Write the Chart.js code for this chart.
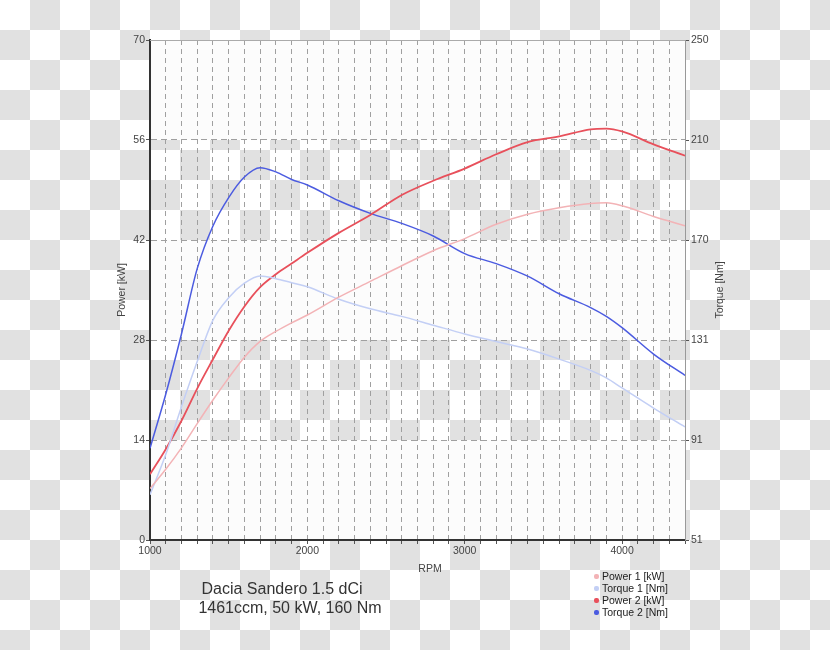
<!DOCTYPE html>
<html>
<head>
<meta charset="utf-8">
<script src="https://cdn.jsdelivr.net/npm/chart.js@4"></script>
<style>
  html, body { margin: 0; padding: 0; background: #fff; }
  #wrap { position: relative; width: 830px; height: 650px; overflow: hidden; }
  canvas { position: absolute; left: 0; top: 0; }
  .cap { position: absolute; font-family: "Liberation Sans", Arial, sans-serif; font-size: 16px; color: #333; white-space: nowrap; transform: translateX(-50%); }
  #legend { position: absolute; left: 594px; top: 570px; font-family: "Liberation Sans", Arial, sans-serif; font-size: 10.5px; color: #222; }
  #legend div { height: 12px; line-height: 12px; white-space: nowrap; }
  #legend span.m { display: inline-block; width: 5px; height: 5px; border-radius: 2px; margin-right: 3px; vertical-align: 1px; }
</style>
</head>
<body>
<div id="wrap">
  <canvas id="c" width="830" height="650"></canvas>
  <div class="cap" style="left:282px; top:580px;">Dacia Sandero 1.5 dCi</div>
  <div class="cap" style="left:290px; top:599px;">1461ccm, 50 kW, 160 Nm</div>
  <div id="legend"></div>
</div>
<script>
// ---- data ----
const rpm      = [1000,1100,1200,1300,1400,1500,1600,1700,1800,1900,2000,2200,2400,2600,2800,3000,3200,3400,3600,3800,3900,4000,4200,4400];
const power1   = [7.2, 9.9, 12.9,16.3,19.6,22.7,25.6,27.8,29.2,30.4,31.5,34.0,36.2,38.4,40.5,42.2,44.2,45.6,46.5,47.1,47.2,46.8,45.3,44.0];
const torque1  = [69,  85,  104, 122, 138.5,147.4,153.2,156.1,155,153.4,151.8,146.8,143,140,136.5,133,130,127,123,118.5,115.5,111.5,103.5,96];
const power2   = [9.2, 12.7,16.7,21.2,25.3,29.3,32.7,35.4,37.2,38.7,40.2,43.0,45.5,48.3,50.3,52.0,54.0,55.7,56.5,57.5,57.6,57.2,55.4,53.8];
const torque2  = [87.5,109, 133, 159, 176, 187.3,195.5,199.2,197.5,194.5,192.3,186,181,177,172,165,161,156,149,143.5,140,135.5,125,116.5];
const seriesNames  = ['Power 1 [kW]','Torque 1 [Nm]','Power 2 [kW]','Torque 2 [Nm]'];
const seriesColors = ['#f3b3b6','#c3cff5','#e8505b','#4b5be0'];
const xTickLabels     = [1000,2000,3000,4000];
const leftTickLabels  = [0,14,28,42,56,70];
const rightTickLabels = [51,91,131,170,210,250];

const FONT = '"Liberation Sans", Arial, sans-serif';

// legend (HTML)
const lg = document.getElementById('legend');
seriesNames.forEach((n,i)=>{
  const d = document.createElement('div');
  d.innerHTML = '<span class="m" style="background:'+seriesColors[i]+'"></span>' + n;
  lg.appendChild(d);
});

const bgPlugin = {
  id: 'bg',
  beforeDraw(chart) {
    const ctx = chart.ctx, W = chart.width, H = chart.height;
    ctx.save();
    ctx.fillStyle = '#ffffff';
    ctx.fillRect(0,0,W,H);
    ctx.fillStyle = '#e1e1e1';
    for (let r = 0; r*30 < H; r++) {
      for (let c = 0; c*30 < W; c++) {
        if ((r + c) % 2 === 1) ctx.fillRect(c*30, r*30, 30, 30);
      }
    }
    const a = chart.chartArea, y = chart.scales.y;
    ctx.fillStyle = '#fcfcfc';
    [[70,56],[42,28],[14,0]].forEach(([t,b])=>{
      const yt = y.getPixelForValue(t), yb = y.getPixelForValue(b);
      ctx.fillRect(a.left, yt, a.right - a.left, yb - yt);
    });
    ctx.restore();
  },
  afterDraw(chart) {
    const ctx = chart.ctx, a = chart.chartArea;
    ctx.save();
    ctx.fillStyle = '#444';
    ctx.font = '10.5px ' + FONT;
    ctx.textAlign = 'center';
    ctx.textBaseline = 'middle';
    ctx.fillText('RPM', 430, 569);
    const cy = (a.top + a.bottom) / 2;
    ctx.translate(122, cy); ctx.rotate(-Math.PI/2); ctx.fillText('Power [kW]', 0, 0);
    ctx.setTransform(1,0,0,1,0,0);
    ctx.translate(720, cy); ctx.rotate(-Math.PI/2); ctx.fillText('Torque [Nm]', 0, 0);
    ctx.restore();
    // top border
    ctx.save();
    ctx.strokeStyle = '#aaa'; ctx.lineWidth = 1;
    ctx.beginPath(); ctx.moveTo(a.left, a.top + 0.5); ctx.lineTo(a.right, a.top + 0.5); ctx.stroke();
    ctx.restore();
  }
};

function ds(i, data, axis, w) {
  return {
    label: seriesNames[i],
    data: rpm.map((r,k)=>({x:r, y:data[k]})),
    borderColor: seriesColors[i],
    backgroundColor: seriesColors[i],
    borderWidth: w,
    pointRadius: 0,
    cubicInterpolationMode: 'monotone',
    yAxisID: axis
  };
}

new Chart(document.getElementById('c'), {
  type: 'line',
  data: {
    datasets: [
      ds(0, power1, 'y', 1.5),
      ds(1, torque1, 'y2', 1.5),
      ds(2, power2, 'y', 1.8),
      ds(3, torque2, 'y2', 1.5)
    ]
  },
  options: {
    responsive: false,
    animation: false,
    devicePixelRatio: 1,
    layout: { padding: { top: 40, left: 0, right: 0, bottom: 0 } },
    plugins: { legend: { display: false }, tooltip: { enabled: false } },
    scales: {
      x: {
        type: 'linear', min: 1000, max: 4400,
        afterFit(s) { s.height = 110; },
        afterBuildTicks(s) { const t=[]; for (let v=1000; v<=4400; v+=100) t.push({value:v}); s.ticks = t; },
        ticks: {
          autoSkip: false, maxRotation: 0, padding: 1,
          color: '#444', font: { family: FONT, size: 10.5 },
          callback: v => xTickLabels.includes(v) ? String(v) : ''
        },
        grid: { color: '#a0a0a0', lineWidth: 1, tickLength: 4, tickColor: '#555', tickBorderDash: [] },
        border: { display: true, color: '#333', width: 2, dash: [5,4] }
      },
      y: {
        position: 'left', min: 0, max: 70,
        afterFit(s) { s.width = 150; },
        afterBuildTicks(s) { s.ticks = leftTickLabels.map(v=>({value:v})); },
        ticks: { padding: 1, color: '#444', font: { family: FONT, size: 10.5 }, callback: (v,i) => String(leftTickLabels[i]) },
        grid: {
          color: c => (c.tick && (c.tick.value === 70)) ? 'rgba(0,0,0,0)' : '#a0a0a0',
          lineWidth: 1, tickLength: 4, tickColor: '#555', tickBorderDash: []
        },
        border: { display: true, color: '#333', width: 2, dash: [6,4] }
      },
      y2: {
        position: 'right', min: 51, max: 250,
        afterFit(s) { s.width = 145; },
        afterBuildTicks(s) { s.ticks = rightTickLabels.map((v,i)=>({value: 51 + i*(250-51)/5})); },
        ticks: { padding: 2, color: '#444', font: { family: FONT, size: 10.5 }, callback: (v,i) => String(rightTickLabels[i]) },
        grid: { drawOnChartArea: false, tickLength: 4, tickColor: '#555', tickBorderDash: [] },
        border: { display: true, color: '#999', width: 1 }
      }
    }
  },
  plugins: [bgPlugin]
});
</script>
</body>
</html>
